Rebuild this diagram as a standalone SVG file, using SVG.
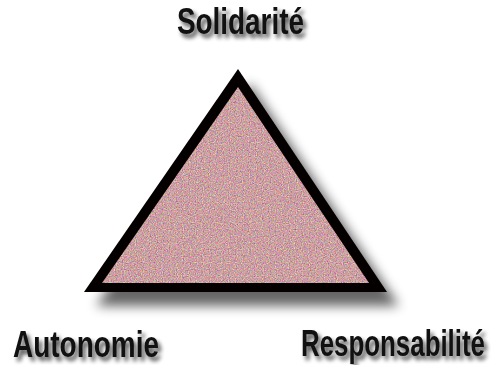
<svg xmlns="http://www.w3.org/2000/svg" width="491" height="365" viewBox="0 0 491 365">
<style>
.lbl{font-family:"Liberation Sans Narrow","Liberation Sans",Arial,sans-serif;font-weight:bold;font-size:36px;fill:#111;filter:url(#tshadow)}
</style>
<defs>
<filter id="tshadow" x="-10%" y="-30%" width="130%" height="180%" color-interpolation-filters="sRGB">
<feGaussianBlur in="SourceAlpha" stdDeviation="2"/>
<feOffset dx="3" dy="4" result="b"/>
<feComponentTransfer in="b" result="s"><feFuncA type="linear" slope="0.7"/></feComponentTransfer>
<feMerge><feMergeNode in="s"/><feMergeNode in="SourceGraphic"/></feMerge>
</filter>
<filter id="shadow" x="-20%" y="-20%" width="140%" height="150%">
<feGaussianBlur stdDeviation="6"/>
</filter>
<filter id="grain" x="0" y="0" width="100%" height="100%" color-interpolation-filters="sRGB">
<feTurbulence type="fractalNoise" baseFrequency="0.85" numOctaves="2" seed="7"/>
<feColorMatrix type="matrix" values="0.75 0 0 0 0.42  0 0.75 0 0 0.25  0 0 0.75 0 0.26  0 0 0 0 1"/>
<feComposite in2="SourceGraphic" operator="in"/>
</filter>
</defs>
<rect width="491" height="365" fill="#fff"/>
<g id="triangle">
<polygon points="238,69 84,292 387,292" fill="#000" opacity="0.6" transform="translate(12,14)" filter="url(#shadow)"/>
<polygon points="238,69 84,292 387,292" fill="#050000"/>
<polygon points="238,87 102,283 369,283" fill="#c49aa0" filter="url(#grain)"/>
</g>
<g id="connectors"></g>
<g id="solidarite"><text class="lbl" x="177" y="34" textLength="127" lengthAdjust="spacingAndGlyphs">Solidarité</text></g>
<g id="autonomie"><text class="lbl" x="13" y="357" textLength="146" lengthAdjust="spacingAndGlyphs">Autonomie</text></g>
<g id="responsabilite"><text class="lbl" x="301" y="356" textLength="184" lengthAdjust="spacingAndGlyphs">Responsabilité</text></g>
</svg>
